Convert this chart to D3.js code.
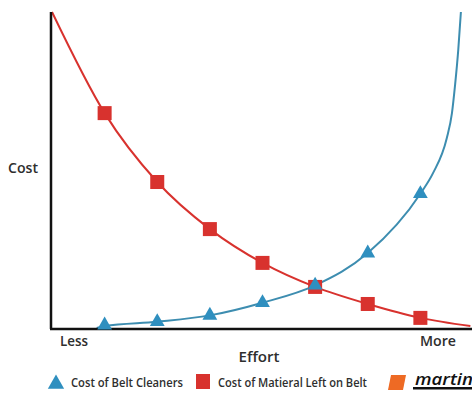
<!DOCTYPE html>
<html>
<head>
<meta charset="utf-8">
<script src="https://cdn.jsdelivr.net/npm/d3@7"></script>
<style>
  html, body { margin: 0; padding: 0; background: #fff; }
  svg { display: block; }
  text { font-family: "Open Sans", "DejaVu Sans", sans-serif; fill: #2e2e2e; font-weight: 600; }
</style>
</head>
<body>
<svg id="chart" width="472" height="394"></svg>
<script>
// Effort positions (arbitrary units, 0 = least effort)
const markerEffort = [1, 2, 3, 4, 5, 6, 7];
// Cost of material left on belt (relative cost, 0-100)
const materialCurveEffort = [0, 1, 2, 3, 4, 5, 6, 7, 7.95];
const materialCurveCost   = [100, 68, 46.2, 31.3, 20.6, 13.0, 7.6, 3.2, 0.6];
// Cost of belt cleaners (relative cost, 0-100)
const cleanerCurveEffort = [0.85, 1, 2, 3, 4, 5, 6, 7, 7.24, 7.5, 7.6, 7.66, 7.72, 7.77];
const cleanerCurveCost   = [0, 0.6, 2.0, 4.0, 8.0, 13.5, 23.7, 42.5, 49, 60, 68, 77, 88, 100];
// Marker values (sampled at markerEffort)
const materialMarkers = [68, 46.2, 31.3, 20.6, 13.0, 7.6, 3.2];
const cleanerMarkers  = [0.9, 2.0, 4.0, 8.0, 13.5, 23.7, 42.5];

const labels = { y: "Cost", x: "Effort", low: "Less", high: "More" };
const seriesNames = ["Cost of Belt Cleaners", "Cost of Matieral Left on Belt"];

const red = "#d8322e", blue = "#2f8fbf", blueLine = "#3d8db0";

const svg = d3.select("#chart");
const x = d3.scaleLinear().domain([0, 8]).range([52, 473]);
const y = d3.scaleLinear().domain([0, 100]).range([328, 12]);

const line = d3.line().x(d => x(d[0])).y(d => y(d[1])).curve(d3.curveMonotoneX);

// curves
svg.append("path")
  .datum(d3.zip(materialCurveEffort, materialCurveCost))
  .attr("d", line).attr("fill", "none").attr("stroke", red).attr("stroke-width", 2);
svg.append("path")
  .datum(d3.zip(cleanerCurveEffort, cleanerCurveCost))
  .attr("d", line).attr("fill", "none").attr("stroke", blueLine).attr("stroke-width", 2);

// axes (plain lines, no ticks)
svg.append("line").attr("x1", x(0) - 1).attr("x2", x(0) - 1).attr("y1", y(100)).attr("y2", y(0) + 1)
  .attr("stroke", "#111").attr("stroke-width", 2.5);
svg.append("line").attr("x1", x(0) - 2).attr("x2", 472).attr("y1", y(0) + 1).attr("y2", y(0) + 1)
  .attr("stroke", "#111").attr("stroke-width", 2.5);

// markers
svg.selectAll("rect.mat").data(d3.zip(markerEffort, materialMarkers)).join("rect")
  .attr("class", "mat")
  .attr("x", d => x(d[0]) - 7).attr("y", d => y(d[1]) - 7)
  .attr("width", 14).attr("height", 14).attr("fill", red);

const tri = d3.symbol().type(d3.symbolTriangle).size(95);
svg.selectAll("path.cln").data(d3.zip(markerEffort, cleanerMarkers)).join("path")
  .attr("class", "cln")
  .attr("transform", d => `translate(${x(d[0])},${y(d[1])})`)
  .attr("d", tri).attr("fill", blue);

// axis labels
function label(txt, cx, cy, len) {
  svg.append("text").attr("x", cx).attr("y", cy).attr("text-anchor", "middle")
    .attr("font-size", 14).attr("textLength", len).attr("lengthAdjust", "spacingAndGlyphs")
    .text(txt);
}
label(labels.y, 23, 173, 30);
label(labels.low, 74, 346, 28);
label(labels.high, 438, 346, 36);
label(labels.x, 259, 362, 41);

// legend
const lg = svg.append("g");
lg.append("path").attr("transform", "translate(56,384)")
  .attr("d", d3.symbol().type(d3.symbolTriangle).size(115)).attr("fill", blue);
lg.append("text").attr("x", 71).attr("y", 387).attr("font-size", 12)
  .attr("textLength", 112).attr("lengthAdjust", "spacingAndGlyphs").text(seriesNames[0]);
lg.append("rect").attr("x", 196).attr("y", 374).attr("width", 14).attr("height", 15).attr("fill", red);
lg.append("text").attr("x", 218).attr("y", 387).attr("font-size", 12)
  .attr("textLength", 149).attr("lengthAdjust", "spacingAndGlyphs").text(seriesNames[1]);

// brand mark
const logo = svg.append("g");
logo.append("path").attr("d", "M391,375 L406,375 L403,390 L388,390 Z").attr("fill", "#ee6a24");
logo.append("text").attr("x", 415).attr("y", 385).attr("font-size", 16).attr("font-weight", "bold")
  .attr("font-style", "italic").attr("textLength", 58).attr("lengthAdjust", "spacingAndGlyphs")
  .style("fill", "#111").text("martin");
logo.append("rect").attr("x", 413).attr("y", 387).attr("width", 59).attr("height", 2.5).attr("fill", "#111");
</script>
</body>
</html>
